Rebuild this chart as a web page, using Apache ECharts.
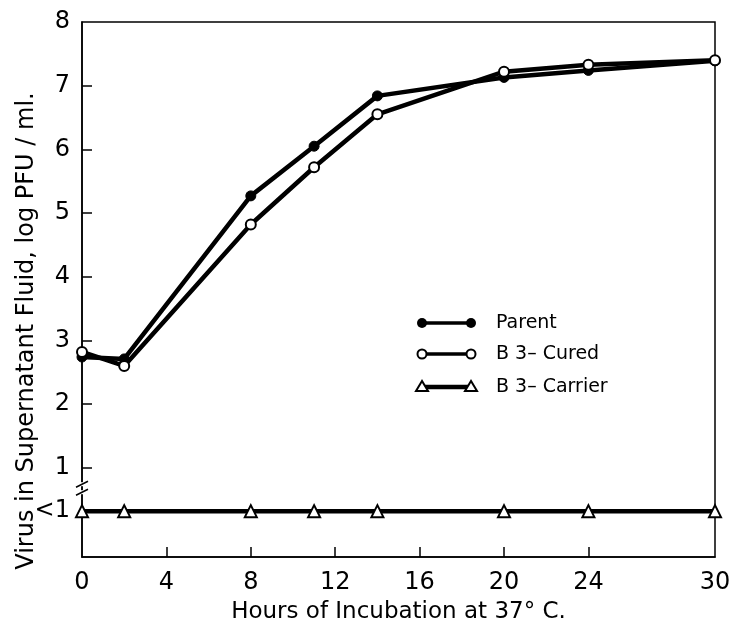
<!DOCTYPE html>
<html><head><meta charset="utf-8">
<script src="https://cdn.jsdelivr.net/npm/echarts@6/dist/echarts.min.js"></script>
<style>html,body{margin:0;padding:0;background:#fff}#c{width:737px;height:628px}</style>
</head><body><div id="c"></div>
<script>
// ---- data ----
const hours = [0, 2, 8, 11, 14, 20, 24, 30];
const parentVals = [2.74, 2.71, 5.27, 6.05, 6.84, 7.13, 7.24, 7.39];
const curedVals = [2.82, 2.6, 4.82, 5.72, 6.55, 7.22, 7.33, 7.4];
const carrierVals = [0.32, 0.32, 0.32, 0.32, 0.32, 0.32, 0.32, 0.32];
const seriesNames = ['Parent', 'B 3– Cured', 'B 3– Carrier'];
const xLabelValues = [0, 4, 8, 12, 16, 20, 24, 30];
const xTickValues = [4, 8, 12, 16, 20, 24];
const yLabelValues = [0.32, 1, 2, 3, 4, 5, 6, 7, 8];
const yTickValues = [1, 2, 3, 4, 5, 6, 7];
const xTitle = 'Hours of Incubation at 37° C.';
const yTitle = 'Virus in Supernatant Fluid, log PFU / ml.';

const FONT = 'DejaVu Sans';
const chart = echarts.init(document.getElementById('c'), null, {renderer: 'canvas'});
const zip = (xs, ys) => xs.map((x, i) => [x, ys[i]]);

const option = {
  backgroundColor: '#fff',
  animation: false,
  grid: {left: 82, right: 22, top: 22, bottom: 71, outerBoundsMode: 'none', containLabel: false,
    show: true, borderColor: '#000', borderWidth: 1.5, backgroundColor: 'transparent'},
  xAxis: {
    type: 'value', min: 0, max: 30,
    axisLine: {show: true, onZero: false, lineStyle: {color: '#000', width: 1.5}},
    axisTick: {show: true, inside: true, length: 10, customValues: xTickValues, lineStyle: {color: '#000', width: 1.5}},
    axisLabel: {show: true, customValues: xLabelValues, margin: 14, color: '#000', fontFamily: FONT, fontSize: 24},
    splitLine: {show: false},
    name: xTitle, nameLocation: 'middle', nameGap: 44,
    nameTextStyle: {color: '#000', fontFamily: FONT, fontSize: 23}
  },
  yAxis: {
    type: 'value', min: -0.4, max: 8,
    axisLine: {show: true, onZero: false, lineStyle: {color: '#000', width: 1.5}},
    axisTick: {show: true, inside: true, length: 10, customValues: yTickValues, lineStyle: {color: '#000', width: 1.5}},
    axisLabel: {show: true, customValues: yLabelValues, margin: 12, color: '#000', fontFamily: FONT, fontSize: 24,
      formatter: v => (v < 1 ? '<1' : String(v))},
    splitLine: {show: false}
  },
  series: [
    {name: seriesNames[0], type: 'line', data: zip(hours, parentVals), symbol: 'circle', symbolSize: 10,
      lineStyle: {color: '#000', width: 4.5}, itemStyle: {color: '#000', borderColor: '#000', borderWidth: 1}, z: 3},
    {name: seriesNames[1], type: 'line', data: zip(hours, curedVals), symbol: 'circle', symbolSize: 10,
      lineStyle: {color: '#000', width: 4.5}, itemStyle: {color: '#fff', borderColor: '#000', borderWidth: 2}, z: 4},
    {name: seriesNames[2], type: 'line', data: zip(hours, carrierVals), symbol: 'triangle', symbolSize: 12,
      lineStyle: {color: '#000', width: 4.5}, itemStyle: {color: '#fff', borderColor: '#000', borderWidth: 2}, z: 4}
  ]
};
chart.setOption(option);

// ---- decorations: legend, y title, axis break ----
const g = [];
const legendX1 = 422, legendX2 = 471, textX = 496;
const rowsY = [323, 354, 387];
const kinds = ['filled', 'open', 'tri'];
rowsY.forEach((y, i) => {
  g.push({type: 'line', shape: {x1: legendX1, y1: y, x2: legendX2, y2: y}, style: {stroke: '#000', lineWidth: i === 2 ? 4.5 : 3.5}, z: 10});
  [legendX1, legendX2].forEach(x => {
    if (kinds[i] === 'filled') g.push({type: 'circle', shape: {cx: x, cy: y, r: 5}, style: {fill: '#000'}, z: 11});
    else if (kinds[i] === 'open') g.push({type: 'circle', shape: {cx: x, cy: y, r: 4.5}, style: {fill: '#fff', stroke: '#000', lineWidth: 2}, z: 11});
    else g.push({type: 'polygon', shape: {points: [[x, y - 6], [x - 6, y + 4], [x + 6, y + 4]]}, style: {fill: '#fff', stroke: '#000', lineWidth: 2}, z: 11});
  });
  g.push({type: 'text', x: textX, y: y, style: {text: seriesNames[i], fill: '#000', font: '19px "' + FONT + '"', textVerticalAlign: 'middle', textAlign: 'left'}, z: 11});
});
g.push({type: 'text', x: 27, y: 331, rotation: Math.PI / 2,
  style: {text: yTitle, fill: '#000', font: '24px "' + FONT + '"', textAlign: 'center', textVerticalAlign: 'middle'}, z: 11});
// axis break marks
const bp = chart.convertToPixel({gridIndex: 0}, [0, 0.68]);
[-4, 4].forEach(d => {
  g.push({type: 'rect', shape: {x: bp[0] - 7, y: bp[1] + d - 2, width: 14, height: 4}, style: {fill: '#fff'}, z: 12});
  g.push({type: 'line', shape: {x1: bp[0] - 6, y1: bp[1] + d + 3, x2: bp[0] + 6, y2: bp[1] + d - 3}, style: {stroke: '#000', lineWidth: 1.5}, z: 13});
});
chart.setOption({graphic: g});
</script>
</body></html>
